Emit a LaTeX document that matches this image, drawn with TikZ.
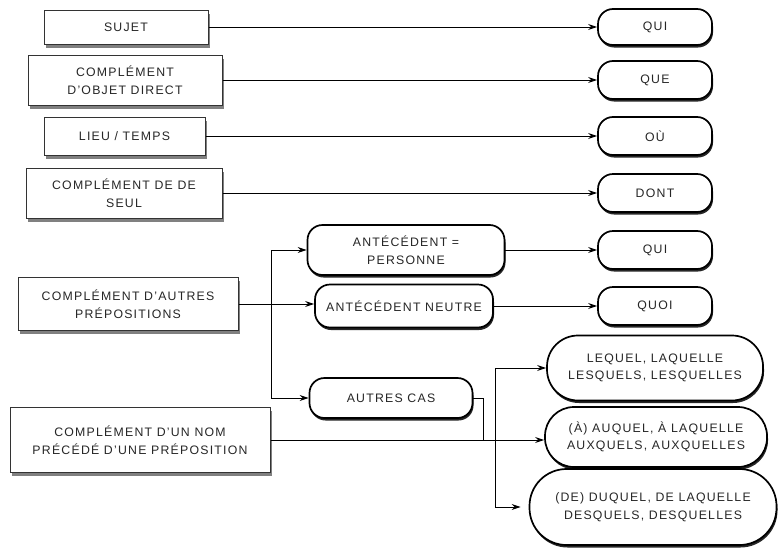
\documentclass[tikz,border=0pt]{standalone}
\usepackage{fontspec}
\setmainfont{Liberation Sans}[LetterSpace=10]
\usetikzlibrary{arrows.meta,shadows}
\begin{document}
\begin{tikzpicture}[x=1pt,y=-1pt,
  lbl/.style={font=\fontsize{12.3}{17.5}\selectfont, align=center, inner sep=0pt, text=black!85},
  sqbox/.style={lbl, draw=black!80, line width=1pt, fill=white, rectangle,
     drop shadow={shadow xshift=2pt, shadow yshift=-3.5pt, fill=black!50, opacity=1}},
  rbox/.style={lbl, draw=black, line width=1.7pt, fill=white, rounded corners=15pt,
     drop shadow={shadow xshift=1pt, shadow yshift=-2.5pt, fill=black!85, opacity=1}},
  arr/.style={line width=1pt, -{Stealth[length=9pt,width=6pt]}},
  ln/.style={line width=1pt}]
\useasboundingbox (0,0) rectangle (782,549);

% left boxes
\node[sqbox, minimum width=164pt, minimum height=34pt] (sujet) at (126,27) {SUJET};
\node[sqbox, minimum width=194pt, minimum height=50pt] (cod) at (125,80) {COMPLÉMENT\\D'OBJET DIRECT};
\node[sqbox, minimum width=161pt, minimum height=38pt] (lieu) at (124.5,136) {LIEU / TEMPS};
\node[sqbox, minimum width=196pt, minimum height=50pt] (dede) at (124,193) {COMPLÉMENT DE DE\\SEUL};
\node[sqbox, minimum width=220pt, minimum height=53pt] (cap) at (128,304) {COMPLÉMENT D'AUTRES\\PRÉPOSITIONS};
\node[sqbox, minimum width=260pt, minimum height=65pt] (nom) at (140,440) {COMPLÉMENT D'UN NOM\\PRÉCÉDÉ D'UNE PRÉPOSITION};

% right small boxes
\node[rbox, minimum width=114pt, minimum height=36pt] (qui1) at (655,27) {QUI};
\node[rbox, minimum width=114pt, minimum height=38pt] (que) at (655,80) {QUE};
\node[rbox, minimum width=114pt, minimum height=38pt] (ou) at (655,136) {OÙ};
\node[rbox, minimum width=114pt, minimum height=38pt] (dont) at (655,193) {DONT};
\node[rbox, minimum width=114pt, minimum height=38pt] (qui2) at (655,250) {QUI};
\node[rbox, minimum width=114pt, minimum height=38pt] (quoi) at (655,306) {QUOI};

% middle boxes
\node[rbox, minimum width=197pt, minimum height=50pt] (pers) at (406,250) {ANTÉCÉDENT =\\PERSONNE};
\node[rbox, minimum width=178pt, minimum height=43pt] (neut) at (404,306) {ANTÉCÉDENT NEUTRE};
\node[rbox, minimum width=163pt, minimum height=40pt] (autres) at (391,398) {AUTRES CAS};

% big rounded boxes
\node[rbox, rounded corners=31pt, minimum width=216pt, minimum height=65pt] (lequel) at (655,368) {LEQUEL, LAQUELLE\\LESQUELS, LESQUELLES};
\node[rbox, rounded corners=29pt, minimum width=222pt, minimum height=60pt] (auq) at (656,437) {(À) AUQUEL, À LAQUELLE\\AUXQUELS, AUXQUELLES};
\node[rbox, rounded corners=37pt, minimum width=247pt, minimum height=76pt] (duq) at (653,507) {(DE) DUQUEL, DE LAQUELLE\\DESQUELS, DESQUELLES};

% connectors
\draw[arr] (sujet) -- (qui1);
\draw[arr] (cod) -- (que);
\draw[arr] (lieu) -- (ou);
\draw[arr] (dede) -- (dont);
\draw[arr] (pers) -- (qui2);
\draw[arr] (neut) -- (quoi);

\coordinate (b1) at (271,304);
\draw[arr] (cap.east) -- (neut.west |- cap.east);
\draw[arr] (b1 |- pers.west) -- (pers.west);
\draw[arr] (b1 |- autres.west) -- (autres.west);
\draw[ln] (b1 |- pers.west) -- (b1 |- autres.west);

\coordinate (j1) at (483,440);
\draw[ln] (autres.east) -| (j1);
\draw[arr] (nom.east) -- (auq.west |- nom.east);
\coordinate (b2) at (495,440);
\draw[ln] (b2 |- lequel.west) -- (b2 |- duq.west);
\draw[arr] (b2 |- lequel.west) -- (lequel.west);
\draw[arr] (b2 |- duq.west) -- ([xshift=-8pt]duq.west);
\end{tikzpicture}
\end{document}
